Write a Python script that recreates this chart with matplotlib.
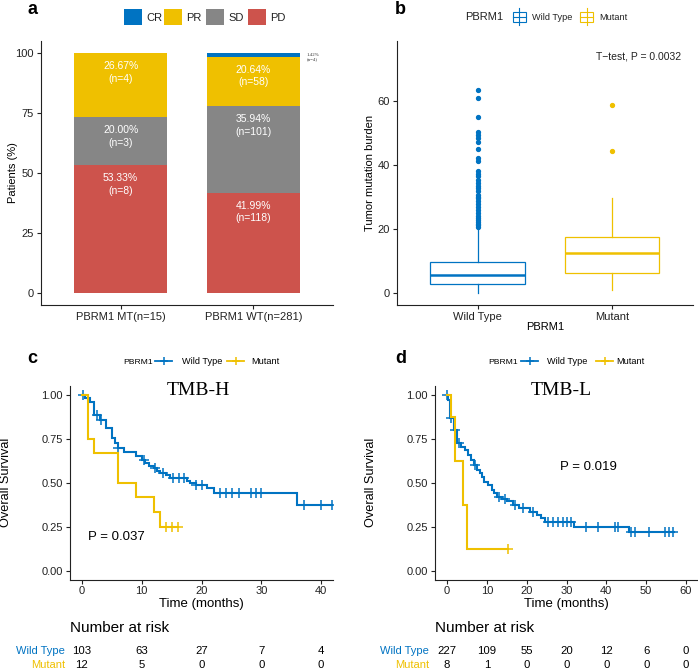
import numpy as np
import matplotlib
matplotlib.use('Agg')
import matplotlib.pyplot as plt
from matplotlib.patches import Rectangle
from matplotlib.lines import Line2D
import matplotlib.transforms as mtrans

# ---------------- data ----------------
resp_groups = ['PBRM1 MT(n=15)', 'PBRM1 WT(n=281)']
resp_cats = ['CR', 'PR', 'SD', 'PD']
resp_pd = [53.33, 41.99]
resp_sd = [20.00, 35.94]
resp_pr = [26.67, 20.64]
resp_cr = [0.0, 1.42]
resp_n_pd = [8, 118]
resp_n_sd = [3, 101]
resp_n_pr = [4, 58]
resp_n_cr = [0, 4]

tmb_groups = ['Wild Type', 'Mutant']
tmb_whislo = [0.0, 1.0]
tmb_q1 = [2.8, 6.2]
tmb_med = [5.7, 12.7]
tmb_q3 = [9.9, 17.5]
tmb_whishi = [20.6, 29.7]
tmb_out_wt = [63.6, 61.0, 55.1, 50.3, 49.5, 48.6, 47.3, 45.2, 42.2, 41.4, 38.1, 37.2,
              36.5, 35.3, 34.4, 33.6, 32.9, 31.8, 30.8, 30.2, 29.7, 28.7, 27.8, 26.9,
              26.1, 25.2, 24.2, 23.5, 22.9, 22.4, 21.7, 21.2, 20.8]
tmb_out_mut = [44.5, 58.9]
tmb_test_label = 'T\u2212test, P = 0.0032'

# KM: TMB-H
c_wt_t = [0, 0.5, 1.3, 2.0, 3.0, 4.0, 5.0, 5.5, 6.0, 7.0, 9.0, 10.0, 10.5, 11.2, 12.0,
          12.6, 13.1, 14.0, 14.8, 17.5, 18.0, 19.0, 21.0, 22.1, 36.0, 42.5]
c_wt_s = [1.0, 0.98, 0.96, 0.886, 0.857, 0.81, 0.753, 0.725, 0.70, 0.677, 0.653, 0.63,
          0.615, 0.596, 0.582, 0.569, 0.558, 0.545, 0.526, 0.512, 0.50, 0.488, 0.469,
          0.444, 0.374, 0.374]
c_wt_cens = [0.1, 2.5, 3.2, 6.0, 10.3, 12.3, 13.5, 15.3, 16.2, 17.0, 19.1, 20.1, 23.1,
             24.1, 25.1, 26.2, 28.2, 29.1, 30.0, 37.1, 40.0, 41.8]
c_mut_t = [0, 1.0, 2.0, 6.0, 9.0, 12.0, 13.0, 16.0]
c_mut_s = [1.0, 0.75, 0.667, 0.5, 0.417, 0.333, 0.25, 0.25]
c_mut_cens = [14.0, 15.1, 16.0]
c_p_label = 'P = 0.037'
c_risk_times = [0, 10, 20, 30, 40]
c_risk_wt = [103, 63, 27, 7, 4]
c_risk_mut = [12, 5, 0, 0, 0]

# KM: TMB-L
d_wt_t = [0, 0.3, 0.8, 1.7, 2.5, 3.6, 4.6, 5.4, 6.1, 6.7, 7.5, 8.3, 8.8, 9.4, 10.4, 11.3,
          11.9, 12.5, 13.8, 15.0, 16.5, 18.0, 20.8, 22.5, 23.7, 24.6, 32.0, 45.8, 57.0]
d_wt_s = [1.0, 0.97, 0.867, 0.80, 0.725, 0.706, 0.687, 0.658, 0.63, 0.60, 0.573, 0.554,
          0.53, 0.507, 0.488, 0.46, 0.44, 0.42, 0.408, 0.397, 0.375, 0.355, 0.336, 0.317,
          0.298, 0.279, 0.25, 0.222, 0.222]
d_wt_cens = [0.05, 1.0, 2.1, 2.9, 7.1, 13.0, 14.6, 17.0, 19.2, 21.7, 25.4, 26.7, 27.9,
             29.2, 30.0, 31.2, 35.0, 37.9, 42.1, 42.9, 46.1, 47.3, 50.8, 54.6, 55.7, 56.7]
d_mut_t = [0, 1.0, 1.9, 4.0, 5.0, 15.4]
d_mut_s = [1.0, 0.875, 0.625, 0.375, 0.125, 0.125]
d_mut_cens = [15.4]
d_p_label = 'P = 0.019'
d_risk_times = [0, 10, 20, 30, 40, 50, 60]
d_risk_wt = [227, 109, 55, 20, 12, 6, 0]
d_risk_mut = [8, 1, 0, 0, 0, 0, 0]

# ---------------- style ----------------
plt.rcParams['font.family'] = ['Liberation Sans', 'DejaVu Sans']
BLUE, YELLOW, GRAY, RED = '#0073C2', '#EFC000', '#868686', '#CD534C'
cat_colors = {'CR': BLUE, 'PR': YELLOW, 'SD': GRAY, 'PD': RED}
W, H = 698, 672
fig = plt.figure(figsize=(W / 100, H / 100), dpi=100)


def fx(px):
    return px / W


def fy(py):
    return 1 - py / H


def add_axes_px(l, t, r, b):
    return fig.add_axes([fx(l), fy(b), (r - l) / W, (b - t) / H])


def style_axes(ax):
    for s in ['top', 'right']:
        ax.spines[s].set_visible(False)
    for s in ['left', 'bottom']:
        ax.spines[s].set_linewidth(0.8)
        ax.spines[s].set_color('#222222')
    ax.tick_params(direction='out', length=3, width=0.8, color='#222222',
                   labelsize=8, labelcolor='#222222', pad=2)


def ftext(px, py, s, **kw):
    fig.text(fx(px), fy(py), s, **kw)


# ---------------- panel a ----------------
axa = add_axes_px(41, 41.3, 333, 305.3)
style_axes(axa)
xa = np.arange(1, len(resp_groups) + 1)
bw = 0.7
bottom = np.zeros(len(xa))
stack = [('PD', resp_pd, resp_n_pd), ('SD', resp_sd, resp_n_sd),
         ('PR', resp_pr, resp_n_pr), ('CR', resp_cr, resp_n_cr)]
for cat, vals, ns in stack:
    vals = np.array(vals)
    axa.bar(xa, vals, bw, bottom=bottom, color=cat_colors[cat], linewidth=0)
    for i in range(len(xa)):
        if vals[i] <= 0:
            continue
        top = bottom[i] + vals[i]
        if vals[i] > 5:
            axa.text(xa[i], top - 8, f'{vals[i]:.2f}%\n(n={ns[i]})', ha='center',
                     va='center', color='white', fontsize=7.5, linespacing=1.3)
        else:
            axa.text(xa[i] + bw / 2 + 0.05, top - 1.5, f'{vals[i]:.2f}%\n(n={ns[i]})',
                     ha='left', va='center', color='#333333', fontsize=3.5,
                     family='Liberation Serif', linespacing=1.2)
    bottom = bottom + vals
axa.set_xlim(0.4, 2.6)
axa.set_ylim(-5, 105)
axa.set_yticks([0, 25, 50, 75, 100])
axa.set_xticks(xa)
axa.set_xticklabels(resp_groups)
ftext(13, 173, 'Patients (%)', rotation=90, ha='center', va='center', fontsize=8)

# legend a
leg_a = [('CR', 124), ('PR', 164), ('SD', 206), ('PD', 248)]
for cat, x0 in leg_a:
    fig.add_artist(Rectangle((fx(x0), fy(25)), 18 / W, 16 / H, transform=fig.transFigure,
                             facecolor=cat_colors[cat], edgecolor='none'))
    ftext(x0 + 22.5, 17, cat, ha='left', va='center_baseline', fontsize=8, color='#222222')

# ---------------- panel b ----------------
axb = add_axes_px(396.7, 41.5, 693, 305)
style_axes(axb)
tmb_cols = [BLUE, YELLOW]
tmb_fliers = [tmb_out_wt, tmb_out_mut]
stats = []
for i in range(2):
    stats.append(dict(med=tmb_med[i], q1=tmb_q1[i], q3=tmb_q3[i], whislo=tmb_whislo[i],
                      whishi=tmb_whishi[i], fliers=np.array(tmb_fliers[i]), label=tmb_groups[i]))
bp = axb.bxp(stats, positions=[1, 2], widths=0.7, showcaps=False, showfliers=True,
             patch_artist=True)
for i, col in enumerate(tmb_cols):
    bp['boxes'][i].set_facecolor('white')
    bp['boxes'][i].set_edgecolor(col)
    bp['boxes'][i].set_linewidth(0.9)
    bp['medians'][i].set_color(col)
    bp['medians'][i].set_linewidth(1.8)
    for w in bp['whiskers'][2 * i:2 * i + 2]:
        w.set_color(col)
        w.set_linewidth(0.9)
    bp['fliers'][i].set_marker('o')
    bp['fliers'][i].set_markerfacecolor(col)
    bp['fliers'][i].set_markeredgecolor(col)
    bp['fliers'][i].set_markersize(2.8)
axb.set_xlim(0.4, 2.6)
axb.set_ylim(-3.7, 78.7)
axb.set_yticks([0, 20, 40, 60])
axb.set_xticks([1, 2])
axb.set_xticklabels(tmb_groups)
axb.text(1.883, 74, tmb_test_label, ha='left', va='center', fontsize=7.5, color='#222222')
ftext(370, 173, 'Tumor mutation burden', rotation=90, ha='center', va='center', fontsize=8)
ftext(545, 327, 'PBRM1', ha='center', va='center', fontsize=8)

# legend b
ftext(465, 16.5, 'PBRM1', ha='left', va='center_baseline', fontsize=8, color='#222222')
for (x0, lab, col) in [(512.5, 'Wild Type', BLUE), (580, 'Mutant', YELLOW)]:
    xc = x0 + 6.5
    fig.add_artist(Line2D([fx(xc), fx(xc)], [fy(8), fy(25)], transform=fig.transFigure,
                          color=col, lw=0.8))
    fig.add_artist(Rectangle((fx(x0), fy(21.7)), 13 / W, 10 / H, transform=fig.transFigure,
                             facecolor='white', edgecolor=col, lw=0.8))
    fig.add_artist(Line2D([fx(x0), fx(x0 + 13)], [fy(16.7), fy(16.7)],
                          transform=fig.transFigure, color=col, lw=0.8))
    ftext(x0 + 19.5, 16.5, lab, ha='left', va='center_baseline', fontsize=6.6,
          color='#222222')


# ---------------- KM panels ----------------
def step_value(ts, ss, q):
    ts = np.asarray(ts)
    ss = np.asarray(ss)
    idx = np.searchsorted(ts, np.asarray(q), side='right') - 1
    return ss[np.clip(idx, 0, len(ss) - 1)]


def km_panel(rect, xlim, xticks, curves, title, title_x, p_label, p_xy,
             risk_times, risk_rows, risk_label_x, legend_px, letter_px, ylabel_x):
    ax = add_axes_px(*rect)
    style_axes(ax)
    for ts, ss, cens, col in curves:
        ax.step(ts, ss, where='post', color=col, lw=1.5, solid_joinstyle='miter')
        ax.plot(cens, step_value(ts, ss, cens), ls='none', marker='+', ms=6.5,
                mew=1.1, color=col)
    ax.set_xlim(*xlim)
    ax.set_ylim(-0.05, 1.05)
    ax.set_xticks(xticks)
    ax.set_yticks([0, 0.25, 0.5, 0.75, 1.0])
    ax.set_yticklabels(['0.00', '0.25', '0.50', '0.75', '1.00'])
    ax.text(title_x, 1.022, title, ha='center', va='center', fontsize=14,
            family='Liberation Serif')
    ax.text(p_xy[0], p_xy[1], p_label, ha='left', va='center', fontsize=9.5)
    l, t, r, b = rect
    ftext((l + r) / 2, 603.5, 'Time (months)', ha='center', va='center', fontsize=9.5)
    ftext(ylabel_x, (t + b) / 2, 'Overall Survival', rotation=90, ha='center',
          va='center', fontsize=9.2)
    # risk table
    tr = mtrans.blended_transform_factory(ax.transData, fig.transFigure)
    ftext(l, 627.7, 'Number at risk', ha='left', va='center', fontsize=11)
    for (lab, vals, col), py in zip(risk_rows, [650.7, 665]):
        ftext(risk_label_x, py, lab, ha='right', va='center', fontsize=8, color=col)
        for tt, v in zip(risk_times, vals):
            ax.text(tt, fy(py), str(v), transform=tr, ha='center', va='center',
                    fontsize=8.2, clip_on=False)
    # legend
    tx, k1, t1, k2, t2, ly = legend_px
    ftext(tx, ly, 'PBRM1', ha='left', va='center_baseline', fontsize=6.1)
    for (kx, txx, lab, col) in [(k1, t1, 'Wild Type', BLUE), (k2, t2, 'Mutant', YELLOW)]:
        fig.add_artist(Line2D([fx(kx), fx(kx + 17)], [fy(ly), fy(ly)],
                              transform=fig.transFigure, color=col, lw=1.3))
        fig.add_artist(Line2D([fx(kx + 8.5)], [fy(ly)], transform=fig.transFigure,
                              color=col, marker='+', ms=6, mew=1.1, ls='none'))
        ftext(txx, ly, lab, ha='left', va='center_baseline', fontsize=6.6)
    ftext(letter_px[0], letter_px[1], letter_px[2], ha='left', va='baseline',
          fontsize=13, fontweight='bold')
    return ax


km_panel((70, 386, 333, 579.5), (-2, 42), [0, 10, 20, 30, 40],
         [(c_wt_t, c_wt_s, c_wt_cens, BLUE), (c_mut_t, c_mut_s, c_mut_cens, YELLOW)],
         'TMB-H', 19.5, c_p_label, (1.05, 0.194), c_risk_times,
         [('Wild Type', c_risk_wt, BLUE), ('Mutant', c_risk_mut, YELLOW)], 65,
         (123, 155, 182, 227, 251, 361), (27, 363.3, 'c'), 6.5)

km_panel((435, 386, 698, 579.5), (-3, 63), [0, 10, 20, 30, 40, 50, 60],
         [(d_wt_t, d_wt_s, d_wt_cens, BLUE), (d_mut_t, d_mut_s, d_mut_cens, YELLOW)],
         'TMB-L', 28.8, d_p_label, (28.3, 0.588), d_risk_times,
         [('Wild Type', d_risk_wt, BLUE), ('Mutant', d_risk_mut, YELLOW)], 429,
         (488, 521, 547, 596, 616, 361), (395, 363.3, 'd'), 371)

ftext(27, 14, 'a', ha='left', va='baseline', fontsize=13, fontweight='bold')
ftext(395, 14, 'b', ha='left', va='baseline', fontsize=13, fontweight='bold')

fig.savefig('out.png', dpi=100)
